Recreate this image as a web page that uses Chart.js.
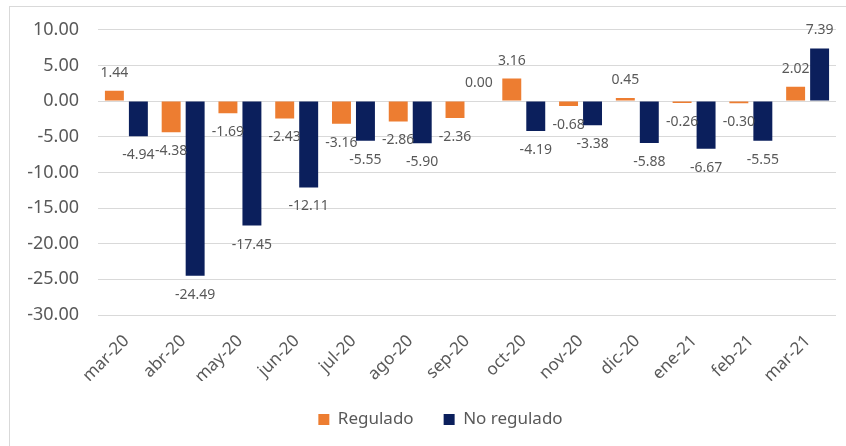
<!DOCTYPE html>
<html>
<head>
<meta charset="utf-8">
<script src="https://cdn.jsdelivr.net/npm/chart.js@4/dist/chart.umd.min.js"></script>
<style>
    html, body { margin: 0; padding: 0; background: #fff; }
    #frame { position: absolute; left: 9px; top: 6px; right: 0; bottom: 0; border-left: 1px solid #d9d9d9; border-top: 1px solid #d9d9d9; }
    #wrap { position: absolute; left: 0; top: 0; width: 846px; height: 446px; }
</style>
</head>
<body>
<div id="frame"></div>
<div id="wrap"><canvas id="chart" width="846" height="446"></canvas></div>
<script>
const months = ["mar-20", "abr-20", "may-20", "jun-20", "jul-20", "ago-20", "sep-20", "oct-20", "nov-20", "dic-20", "ene-21", "feb-21", "mar-21"];
const regulado = [1.44, -4.38, -1.69, -2.43, -3.16, -2.86, -2.36, 3.16, -0.68, 0.45, -0.26, -0.30, 2.02];
const noRegulado = [-4.94, -24.49, -17.45, -12.11, -5.55, -5.90, 0.00, -4.19, -3.38, -5.88, -6.67, -5.55, 7.39];

const fontName = "'Noto Sans', sans-serif";
const textGrey = "#595959";

// etiquetas de valor, estilo Excel: encima si es positivo, debajo si es negativo
const valueLabels = {
    id: "valueLabels",
    afterDatasetsDraw(chart) {
        const ctx = chart.ctx;
        ctx.save();
        ctx.font = "14px " + fontName;
        ctx.fillStyle = textGrey;
        ctx.textAlign = "center";
        ctx.textBaseline = "middle";
        chart.data.datasets.forEach((ds, i) => {
            chart.getDatasetMeta(i).data.forEach((bar, j) => {
                const v = ds.data[j];
                const y = v >= 0 ? bar.y - 18 : bar.y + 19;
                ctx.fillText(v.toFixed(2), bar.x, y);
            });
        });
        ctx.restore();
    }
};

// la leyenda del original está algo desplazada a la derecha
const legendShift = {
    id: "legendShift",
    afterLayout(chart) {
        chart.legend.left += 18;
        chart.legend.right += 18;
    }
};

new Chart(document.getElementById("chart"), {
    type: "bar",
    data: {
        labels: months,
        datasets: [
            { label: "Regulado", data: regulado, backgroundColor: "#ED7D31" },
            { label: "No regulado", data: noRegulado, backgroundColor: "#0B1F5C" }
        ]
    },
    options: {
        responsive: false,
        animation: false,
        devicePixelRatio: 1,
        categoryPercentage: 0.845,
        barPercentage: 0.79,
        layout: { padding: { left: 9, right: 10, top: 29, bottom: 8 } },
        plugins: {
            legend: {
                position: "bottom",
                labels: {
                    boxWidth: 11,
                    boxHeight: 11,
                    padding: 30,
                    color: textGrey,
                    font: { family: fontName, size: 17 }
                }
            },
            tooltip: { enabled: false }
        },
        scales: {
            x: {
                grid: { display: false },
                border: { display: false },
                ticks: {
                    color: textGrey,
                    font: { family: fontName, size: 17 },
                    minRotation: 45,
                    maxRotation: 45,
                    padding: 8
                },
                afterFit(scale) { scale.height = 66; }
            },
            y: {
                min: -30,
                max: 10,
                grid: { color: "#d9d9d9", lineWidth: 1, drawTicks: false },
                border: { display: false },
                ticks: {
                    stepSize: 5,
                    color: textGrey,
                    font: { family: fontName, size: 18 },
                    padding: 19,
                    callback: v => v.toFixed(2)
                },
                afterFit(scale) { scale.width = 89; }
            }
        }
    },
    plugins: [valueLabels, legendShift]
});
</script>
</body>
</html>
